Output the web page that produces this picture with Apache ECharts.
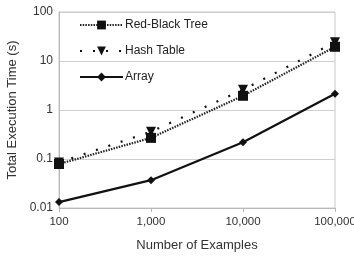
<!doctype html>
<html>
<head>
<meta charset="utf-8">
<title>Execution time</title>
<script src="https://cdn.jsdelivr.net/npm/echarts@6/dist/echarts.min.js"></script>
<style>
    html,body{margin:0;padding:0;background:#fff;}
    #chart{width:354px;height:257px;}
</style>
</head>
<body>
<div id="chart"></div>
<script type="text/javascript">
    var examples = [100, 1000, 10000, 100000];
    var redBlack = [0.079, 0.27, 1.95, 19.5];
    var hashTable = [0.085, 0.36, 2.6, 24];
    var arrayTimes = [0.0132, 0.037, 0.22, 2.15];
    var yTicks = {0.01: '0.01', 0.1: '0.1', 1: '1', 10: '10', 100: '100'};

    function pairs(vals) {
        return examples.map(function (x, i) { return [x, vals[i]]; });
    }

    var myChart = echarts.init(document.getElementById('chart'));
    var font = 'Liberation Sans, Arial, sans-serif';
    var option = {
        animation: false,
        textStyle: {fontFamily: font},
        grid: {left: 59, right: 19, top: 12, bottom: 49, show: true, borderColor: '#c8c8c8', borderWidth: 1,
            containLabel: false, outerBoundsMode: 'none'},
        legend: {
            orient: 'vertical',
            left: 79,
            top: 19,
            padding: 0,
            itemWidth: 43,
            itemHeight: 11,
            itemGap: 14,
            textStyle: {fontSize: 12, color: '#222', fontFamily: font, padding: [0, 0, 0, -3]},
            data: ['Red-Black Tree', 'Hash Table', 'Array']
        },
        xAxis: {
            type: 'log',
            logBase: 10,
            min: 100,
            max: 100000,
            name: 'Number of Examples',
            nameLocation: 'middle',
            nameGap: 31,
            nameTextStyle: {fontSize: 13, color: '#333'},
            axisLine: {lineStyle: {color: '#b8b8b8'}},
            axisTick: {show: true, length: 4, lineStyle: {color: '#b8b8b8'}},
            axisLabel: {fontSize: 11.5, color: '#333', margin: 8, formatter: function (v) { return v.toLocaleString('en-US'); }},
            splitLine: {show: false},
            minorTick: {show: false}
        },
        yAxis: {
            type: 'log',
            logBase: 10,
            min: 0.01,
            max: 100,
            name: 'Total Execution Time (s)',
            nameLocation: 'middle',
            nameGap: 40,
            nameTextStyle: {fontSize: 13, color: '#333'},
            axisLine: {show: true, lineStyle: {color: '#b8b8b8'}},
            axisTick: {show: false},
            axisLabel: {fontSize: 12, color: '#333', margin: 6, formatter: function (v) {
                var k = Math.round(Math.log10(v));
                return yTicks[Math.pow(10, k)] || String(v);
            }},
            splitLine: {show: true, lineStyle: {color: '#cfcfcf'}}
        },
        series: [
            {
                name: 'Red-Black Tree',
                type: 'line',
                data: pairs(redBlack),
                symbol: 'rect',
                symbolSize: 10,
                color: '#111',
                itemStyle: {color: '#111'},
                lineStyle: {color: '#222', width: 2.2, type: [1.5, 1.2]},
                z: 3
            },
            {
                name: 'Hash Table',
                type: 'line',
                data: pairs(hashTable),
                symbol: 'triangle',
                symbolRotate: 180,
                symbolSize: 10,
                color: '#111',
                itemStyle: {color: '#111'},
                lineStyle: {color: '#111', width: 2.2, type: [2, 11]},
                z: 2
            },
            {
                name: 'Array',
                type: 'line',
                data: pairs(arrayTimes),
                symbol: 'diamond',
                symbolSize: 8,
                color: '#111',
                itemStyle: {color: '#111'},
                lineStyle: {color: '#111', width: 2.2},
                z: 4
            }
        ]
    };
    myChart.setOption(option);
</script>
</body>
</html>
